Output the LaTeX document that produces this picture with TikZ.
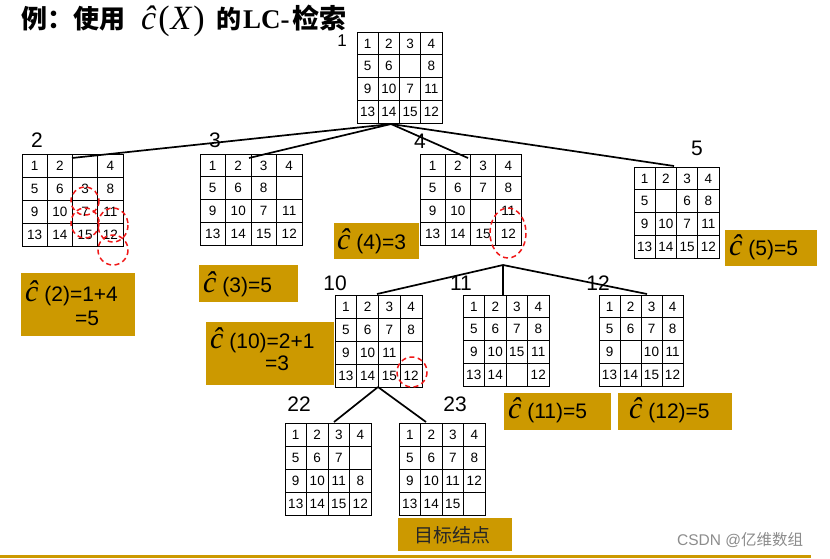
\documentclass[tikz,border=0pt]{standalone}
\usepackage{fontspec}
\setmainfont{Liberation Sans}
\newfontfamily\cjk{Noto Sans CJK SC}
\newfontfamily\serifit{Liberation Serif}
\usetikzlibrary{calc}
\definecolor{gold}{HTML}{CC9900}
\definecolor{marksred}{HTML}{F01818}
\tikzset{
  gridline/.style={line width=1pt, draw=black},
  gridbox/.style={draw=black, line width=1pt, outer sep=0pt, inner sep=0pt, anchor=north west},
  cellnum/.style={font=\fontsize{13.5}{13.5}\selectfont, inner sep=0pt},
  idlabel/.style={font=\fontsize{21}{21}\selectfont, inner sep=0pt},
  goldbox/.style={fill=gold, draw=none, outer sep=0pt, inner sep=0pt, anchor=north west},
  lbltext/.style={font=\fontsize{21}{21}\selectfont, inner sep=0pt, anchor=base west},
  titlepart/.style={inner sep=0pt, anchor=base west},
  edge/.style={line width=1.7pt, draw=black},
  redmark/.style={draw=marksred, line width=1.5pt, dash pattern=on 5pt off 3.5pt},
}
\newcommand{\chat}{{\serifit\itshape\fontsize{30}{30}\selectfont ĉ}}
\newcommand{\puzzle}[6]{%
  \node[gridbox, minimum width=#4*4pt, minimum height=#5*4pt] (#1) at (#2,#3) {};
  \foreach \i in {1,2,3}{
    \draw[gridline] ($(#1.north west)+(\i*#4,0)$) -- ++(0,4*#5);
    \draw[gridline] ($(#1.north west)+(0,\i*#5)$) -- ++(4*#4,0);
  }
  \foreach \v [count=\k from 0] in {#6}{
    \pgfmathtruncatemacro\cc{mod(\k,4)}
    \pgfmathtruncatemacro\rr{int(\k/4)}
    \node[cellnum] at ($(#1.north west)+({(\cc+0.5)*#4},{(\rr+0.5)*#5})$) {\v};
  }
}
\begin{document}
\begin{tikzpicture}[x=1pt,y=-1pt]
\useasboundingbox (0,0) rectangle (830,558);
\fill[white] (0,0) rectangle (830,558);

% title
\node[titlepart, font=\cjk\bfseries\fontsize{26}{26}\selectfont] (ta) at (21,28) {例：使用};
\node[titlepart, font=\serifit\fontsize{34}{34}\selectfont] (tb) at (141,29) {\itshape ĉ\kern2pt\upshape(\kern1pt\itshape X\kern2pt\upshape)};
\node[titlepart, font=\cjk\bfseries\fontsize{25}{25}\selectfont] (tc) at (216,28) {的};
\node[titlepart, font=\serifit\bfseries\fontsize{27}{27}\selectfont] (td) at (243,28) {LC-};
\node[titlepart, font=\cjk\bfseries\fontsize{27}{27}\selectfont] (te) at (292,28) {检索};

% puzzles
\puzzle{g1}{357}{32}{21.25}{22.75}{1,2,3,4,5,6,{},8,9,10,7,11,13,14,15,12}
\puzzle{g2}{22}{154}{25.25}{23}{1,2,{},4,5,6,3,8,9,10,7,11,13,14,15,12}
\puzzle{g3}{200}{154}{25.5}{22.75}{1,2,3,4,5,6,8,{},9,10,7,11,13,14,15,12}
\puzzle{g4}{420}{154}{25.25}{22.75}{1,2,3,4,5,6,7,8,9,10,{},11,13,14,15,12}
\puzzle{g5}{634}{167}{21.25}{22.75}{1,2,3,4,5,{},6,8,9,10,7,11,13,14,15,12}
\puzzle{g10}{335}{295}{21.75}{23}{1,2,3,4,5,6,7,8,9,10,11,{},13,14,15,12}
\puzzle{g11}{463}{295}{21.5}{22.75}{1,2,3,4,5,6,7,8,9,10,15,11,13,14,{},12}
\puzzle{g12}{599}{295}{21}{22.75}{1,2,3,4,5,6,7,8,9,{},10,11,13,14,15,12}
\puzzle{g22}{285}{423}{21.5}{23}{1,2,3,4,5,6,7,{},9,10,11,8,13,14,15,12}
\puzzle{g23}{399}{423}{21.5}{23}{1,2,3,4,5,6,7,8,9,10,11,12,13,14,15,{}}

% id labels
\node[idlabel, font=\fontsize{17}{17}\selectfont] (n1) at (342,41) {1};
\node[idlabel] (n2) at (37,140) {2};
\node[idlabel] (n3) at (215,140) {3};
\node[idlabel] (n4) at (420,141) {4};
\node[idlabel] (n5) at (697,148) {5};
\node[idlabel] (n10) at (335,283) {10};
\node[idlabel] (n11) at (461,283) {11};
\node[idlabel] (n12) at (598,283) {12};
\node[idlabel] (n22) at (299,404) {22};
\node[idlabel] (n23) at (455,404) {23};

% connectors
\coordinate (r1) at (391,124);
\coordinate (e2) at (72,158);
\coordinate (e3) at (249,158);
\coordinate (e4) at (468,158);
\coordinate (e5) at (674,166);
\coordinate (r4) at (503,265);
\coordinate (e10) at (377,294);
\coordinate (e11) at (503,295);
\coordinate (e12) at (647,294);
\coordinate (r10) at (378,387);
\coordinate (e22) at (334,422);
\coordinate (e23) at (426,422);
\draw[edge] (r1) -- (e2);
\draw[edge] (r1) -- (e3);
\draw[edge] (r1) -- (e4);
\draw[edge] (r1) -- (e5);
\draw[edge] (r4) -- (e10);
\draw[edge] (r4) -- (e11);
\draw[edge] (r4) -- (e12);
\draw[edge] (r10) -- (e22);
\draw[edge] (r10) -- (e23);

% red dashed marks
\draw[redmark] (85,201) ellipse [x radius=14, y radius=14];
\draw[redmark] (85,223) ellipse [x radius=14, y radius=15];
\draw[redmark] (113,225) ellipse [x radius=15, y radius=17];
\draw[redmark] (113,250) ellipse [x radius=15, y radius=15];
\draw[redmark] (508,233) ellipse [x radius=18, y radius=25];
\draw[redmark] (412,372) ellipse [x radius=15, y radius=15];

% gold cost boxes
\node[goldbox, minimum width=114pt, minimum height=63pt] (b2) at (21,273) {};
\node[lbltext] (t2a) at (25,301) {\chat\ (2)=1+4};
\node[lbltext] (t2b) at (75,325) {=5};
\node[goldbox, minimum width=99pt, minimum height=37pt] (b3) at (199,265) {};
\node[lbltext] (t3) at (203,292) {\chat\ (3)=5};
\node[goldbox, minimum width=85pt, minimum height=36pt] (b4) at (334,223) {};
\node[lbltext] (t4) at (337,249) {\chat\ (4)=3};
\node[goldbox, minimum width=92pt, minimum height=36pt] (b5) at (725,230) {};
\node[lbltext] (t5) at (729,255) {\chat\ (5)=5};
\node[goldbox, minimum width=128pt, minimum height=63pt] (b10) at (206,322) {};
\node[lbltext] (t10a) at (210,348) {\chat\ (10)=2+1};
\node[lbltext] (t10b) at (265,370) {=3};
\node[goldbox, minimum width=107pt, minimum height=37pt] (b11) at (504,393) {};
\node[lbltext] (t11) at (508,418) {\chat\ (11)=5};
\node[goldbox, minimum width=114pt, minimum height=37pt] (b12) at (618,393) {};
\node[lbltext] (t12) at (629,418) {\chat\ (12)=5};
\node[goldbox, minimum width=114pt, minimum height=33pt] (bgoal) at (398,518) {};
\node[inner sep=0pt, text=black!85, font=\cjk\fontsize{19}{19}\selectfont] (tgoal) at (452,535) {目标结点};

% footer
\draw[gold, line width=3pt] (0,556) -- (811,556);
\node[anchor=base west, inner sep=0pt, text=black!45, font=\fontsize{15.5}{15.5}\selectfont] (wm) at (677,545) {CSDN @{\cjk 亿维数组}};
\end{tikzpicture}
\end{document}
